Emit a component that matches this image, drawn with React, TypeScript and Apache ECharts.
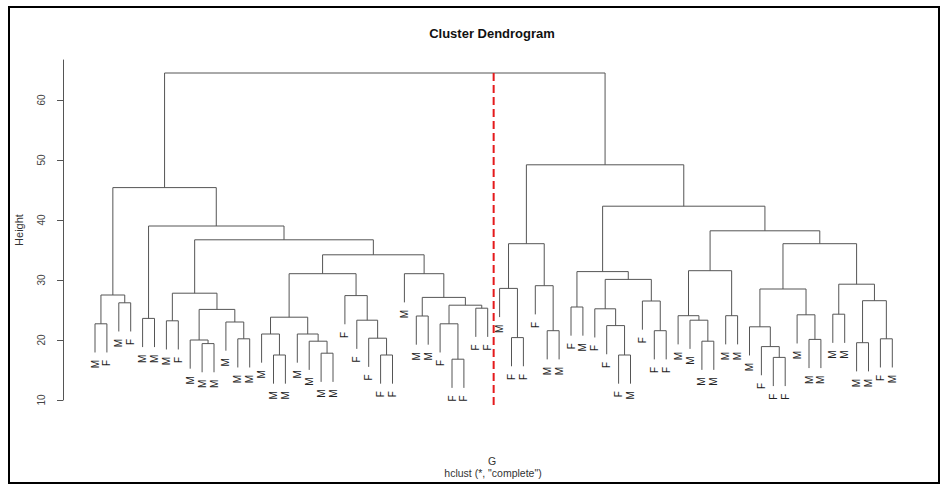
import React, { useEffect, useRef } from 'react';
import * as echarts from 'echarts';

// Leaf labels in dendrogram order (left to right)
const leafLabels: string[] = [
  'M', 'F', 'M', 'F', 'M', 'M', 'M', 'F', 'M', 'M',
  'M', 'M', 'M', 'M', 'M', 'M', 'M', 'M', 'M', 'M',
  'M', 'F', 'F', 'F', 'F', 'F', 'M', 'M', 'M', 'F',
  'F', 'F', 'F', 'F', 'M', 'F', 'F', 'F', 'M', 'M',
  'F', 'M', 'F', 'F', 'F', 'M', 'F', 'F', 'F', 'M',
  'M', 'M', 'M', 'M', 'M', 'M', 'F', 'F', 'F', 'M',
  'M', 'M', 'M', 'M', 'M', 'M', 'F', 'M',
];

// hclust-style merge table: negative = leaf (position in order), positive = earlier merge (1-based)
const mergeLeft: number[] = [
  -1, -3, 1, -5, -7, -10, -9, -13, -12, 7,
  5, -16, -15, -20, -19, -18, 13, -25, -24, -23,
  -22, 17, -28, -31, -30, -33, 25, 23, -27, 22,
  11, 4, 3, -36, -35, -39, -38, 35, -41, -45,
  -44, -43, -48, -47, 42, 39, -52, -51, -50, -54,
  49, -58, -57, -56, -61, -60, 54, -63, -65, -67,
  59, 58, 57, 51, 46, 38, 33,
];
const mergeRight: number[] = [
  -2, -4, 2, -6, -8, -11, 6, -14, 8, 9,
  10, -17, 12, -21, 14, 15, 16, -26, 18, 19,
  20, 21, -29, -32, 24, -34, 26, 27, 28, 29,
  30, 31, 32, -37, 34, -40, 36, 37, -42, -46,
  40, 41, -49, 43, 44, 45, -53, 47, 48, -55,
  50, -59, 52, 53, -62, 55, 56, -64, -66, -68,
  60, 61, 62, 63, 64, 65, 66,
];
const mergeHeight: number[] = [
  22.7, 26.2, 27.5, 23.6, 23.2, 19.4, 20.0, 20.2, 23.0, 25.1,
  27.8, 17.5, 21.0, 17.8, 19.8, 21.0, 23.8, 17.5, 20.3, 23.3,
  27.4, 31.05, 24.0, 16.8, 22.7, 25.3, 25.8, 27.1, 31.05, 34.2,
  36.7, 39.0, 45.4, 20.4, 28.6, 21.55, 29.05, 36.05, 25.5, 17.5,
  22.4, 25.2, 21.55, 26.5, 30.1, 31.4, 19.8, 23.3, 24.05, 24.05,
  31.55, 17.1, 18.9, 22.2, 20.1, 24.2, 28.5, 24.3, 19.55, 20.2,
  26.55, 29.3, 36.05, 38.2, 42.3, 49.2, 64.5,
];
const leafHang = 4.78;
const yTicks: number[] = [10, 20, 30, 40, 50, 60];
// vertical red dashed cut marker (x in leaf units, y in height units)
const cutMarkerX = 34.5;
const cutMarkerRange: number[] = [8.67, 64.5];

const FONT = '"Liberation Sans", Arial, Helvetica, sans-serif';

export default function App() {
  const ref = useRef<HTMLDivElement>(null);

  useEffect(() => {
    if (!ref.current) return;
    const chart = echarts.init(ref.current, undefined, { renderer: 'svg' });

    const clusterX: number[] = [];
    const posOf = (c: number) => (c < 0 ? -c : clusterX[c - 1]);
    for (let k = 0; k < mergeHeight.length; k++) {
      clusterX[k] = (posOf(mergeLeft[k]) + posOf(mergeRight[k])) / 2;
    }
    const topOf = (c: number, parentH: number) => (c < 0 ? parentH - leafHang : mergeHeight[c - 1]);

    const leafSpacing = 11.9;
    const gridLeft = 63;
    const gridWidth = 860;
    const xMin = 1 - (95 - gridLeft) / leafSpacing;
    const xMax = xMin + gridWidth / leafSpacing;

    const option: any = {
      animation: false,
      backgroundColor: '#ffffff',
      grid: { left: gridLeft, top: 60, width: gridWidth, height: 340 },
      xAxis: { type: 'value', min: xMin, max: xMax, show: false },
      yAxis: {
        type: 'value',
        min: 10,
        max: 10 + 340 / 6,
        interval: 10,
        name: 'Height',
        nameLocation: 'middle',
        nameRotate: 90,
        nameGap: 39,
        nameTextStyle: { fontFamily: FONT, fontSize: 11, color: '#333' },
        axisLine: { show: true, onZero: false, lineStyle: { color: '#555', width: 1 } },
        axisTick: { show: true, length: 6, lineStyle: { color: '#555' }, customValues: yTicks },
        axisLabel: {
          rotate: 90,
          margin: 17,
          fontFamily: FONT,
          fontSize: 10,
          color: '#444',
          customValues: yTicks,
        },
        splitLine: { show: false },
      },
      graphic: [
        {
          type: 'rect',
          shape: { x: 9, y: 7, width: 930, height: 476 },
          style: { fill: 'none', stroke: '#000', lineWidth: 2 },
          silent: true,
        },
        {
          type: 'text',
          x: 492,
          y: 33,
          style: {
            text: 'Cluster Dendrogram',
            align: 'center',
            verticalAlign: 'middle',
            fontFamily: FONT,
            fontSize: 13,
            fontWeight: 'bold',
            fill: '#111',
          },
        },
        {
          type: 'text',
          x: 492,
          y: 461,
          style: { text: 'G', align: 'center', verticalAlign: 'middle', fontFamily: FONT, fontSize: 10.5, fill: '#333' },
        },
        {
          type: 'text',
          x: 493,
          y: 473,
          style: {
            text: 'hclust (*, "complete")',
            align: 'center',
            verticalAlign: 'middle',
            fontFamily: FONT,
            fontSize: 10.5,
            fill: '#333',
          },
        },
      ],
      series: [
        {
          type: 'custom',
          data: mergeHeight.map((h, k) => [clusterX[k], h]),
          renderItem: (params: any, api: any) => {
            const k = params.dataIndex;
            const h = mergeHeight[k];
            const l = mergeLeft[k];
            const r = mergeRight[k];
            const xl = posOf(l);
            const xr = posOf(r);
            const p1 = api.coord([xl, topOf(l, h)]);
            const p2 = api.coord([xl, h]);
            const p3 = api.coord([xr, h]);
            const p4 = api.coord([xr, topOf(r, h)]);
            const children: any[] = [
              {
                type: 'polyline',
                shape: { points: [p1, p2, p3, p4] },
                style: { stroke: '#555', lineWidth: 1, fill: 'none' },
              },
            ];
            [l, r].forEach((c, j) => {
              if (c < 0) {
                const pt = j === 0 ? p1 : p4;
                children.push({
                  type: 'text',
                  x: pt[0],
                  y: pt[1] + 7.5,
                  rotation: Math.PI / 2,
                  style: {
                    text: leafLabels[-c - 1],
                    align: 'right',
                    verticalAlign: 'middle',
                    fontFamily: FONT,
                    fontSize: 10,
                    fill: '#222',
                  },
                });
              }
            });
            return { type: 'group', children };
          },
        },
        {
          type: 'custom',
          data: [[cutMarkerX, cutMarkerRange[1]]],
          renderItem: (_params: any, api: any) => {
            const a = api.coord([cutMarkerX, cutMarkerRange[1]]);
            const b = api.coord([cutMarkerX, cutMarkerRange[0]]);
            return {
              type: 'line',
              shape: { x1: a[0], y1: a[1], x2: b[0], y2: b[1] },
              style: { stroke: '#e41a1c', lineWidth: 2, lineDash: [8, 4] },
            };
          },
        },
      ],
    };

    chart.setOption(option);
    return () => chart.dispose();
  }, []);

  return (
    <div
      ref={ref}
      style={{ position: 'fixed', left: 0, top: 0, width: 944, height: 486 }}
    />
  );
}
